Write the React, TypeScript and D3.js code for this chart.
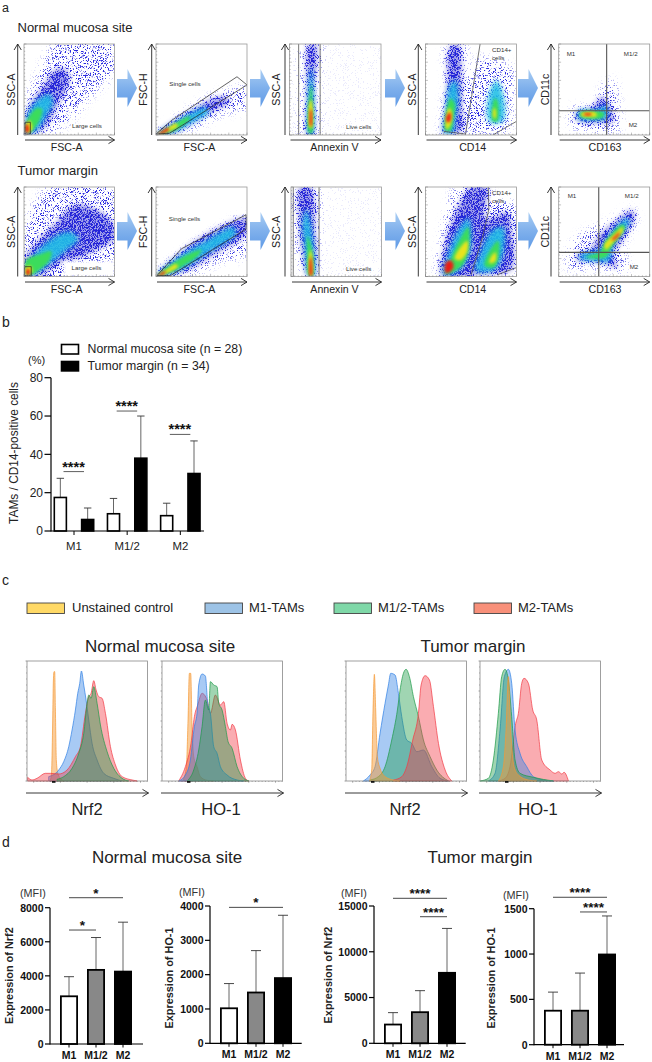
import React from "react";
import * as d3 from "d3";

type Pt = [number, number];

// ---- a: density levels of each flow plot, outer cloud first, percent of the plot axes
const N_FSC_SSC: Pt[][] = [
  [[0,0],[0,30],[8,50],[20,75],[35,100],[100,100],[100,70],[70,40],[55,20],[40,8],[20,0]],
  [[2,2],[3,25],[12,42],[22,55],[30,68],[42,74],[50,66],[48,52],[40,38],[32,22],[25,10],[12,2]],
  [[3,3],[3,18],[10,33],[20,42],[28,45],[32,35],[25,22],[18,10],[10,3]],
  [[3,3],[3,14],[8,24],[15,30],[20,28],[18,18],[12,8],[6,3]],
  [[3,3],[2,12],[6,16],[9,10],[8,4]],
  [[2,3],[2,11],[4,12],[5.5,7],[5,3]],
];
const N_FSC_FSCH: Pt[][] = [
  [[0,0],[15,12],[40,30],[60,42],[80,48],[100,52],[100,30],[75,25],[50,12],[25,3]],
  [[1,1],[17,14],[40,28],[62,40],[78,42],[80,35],[60,25],[40,13],[18,2]],
  [[2,1],[20,13],[40,25],[55,30],[58,25],[40,14],[18,3]],
  [[2,1],[18,10],[32,19],[38,20],[34,14],[18,4]],
  [[2,1],[12,7],[22,13],[24,10],[14,4]],
  [[2,1],[8,5],[13,8],[14,6],[8,2]],
];
const N_ANNEXIN: Pt[][] = [
  [[15,0],[14,40],[18,100],[32,100],[30,50],[28,0]],
  [[20,0],[19,50],[21,100],[29,100],[27,50],[26,0]],
  [[21,2],[21,50],[24,75],[26,50],[25,2]],
  [[21.5,2],[22,45],[24,55],[25,30],[24.5,2]],
  [[22,8],[22.5,38],[24,38],[24.5,8]],
  [[22.7,10],[23,28],[23.8,28],[24,10]],
];
const N_CD14: Pt[][] = [
  [[20,0],[20,30],[24,60],[24,100],[43,100],[42,60],[48,60],[60,85],[72,82],[95,74],[95,40],[90,5],[60,2]],
  [[20,2],[22,30],[24,60],[26,95],[36,100],[40,60],[40,30],[40,5]],
  [[21,3],[23,30],[27,55],[33,60],[36,40],[33,20],[30,3]],
  [[22,5],[23,25],[27,40],[32,35],[30,15],[28,5]],
  [[23,6],[23,22],[26,30],[29,25],[28,12]],
  [[23,15],[23,20],[27,25],[28,18],[26,14]],
];
const N_CD14_RIGHT: Pt[][] = [
  [[70,15],[70,45],[78,60],[85,45],[85,15]],
  [[74,15],[74,35],[76,40],[79,38],[79,15]],
  [[74.5,20],[75,30],[77,28],[77,18]],
];
const N_CD163: Pt[][] = [
  [[15,10],[15,30],[40,30],[50,55],[60,60],[65,30],[65,5],[40,5]],
  [[20,16],[19,25],[35,30],[48,42],[55,35],[60,15],[45,13]],
  [[22,18],[22,26],[40,27],[52,32],[52,18],[40,17]],
  [[24,20],[24,25],[45,26],[50,24],[48,19]],
  [[25,21],[25,24],[40,25],[42,21]],
  [[28,22],[28,23.5],[36,23.5],[36,22]],
];
const T_FSC_SSC: Pt[][] = [
  [[0,0],[0,50],[15,85],[30,100],[100,100],[100,0]],
  [[2,1],[2,22],[15,40],[35,60],[55,80],[80,75],[98,60],[100,42],[80,30],[60,20],[44,17],[30,8],[15,0]],
  [[4,3],[10,22],[30,42],[50,50],[60,42],[45,28],[25,12],[12,3]],
  [[2,2],[2,18],[8,22],[18,25],[30,28],[28,18],[15,6],[8,2]],
  [[2,2],[2,10],[7,12],[9,5]],
  [[3,2],[3,8],[6,8],[6,2]],
];
const T_EMPTY_CORNER: Pt[] = [[44,17],[100,17],[100,0],[44,0]];
const T_FSC_FSCH: Pt[][] = [
  [[0,0],[25,22],[60,45],[100,66],[100,25],[70,18],[45,5],[20,0]],
  [[1,1],[28,28],[60,50],[100,65],[100,48],[65,25],[35,7],[12,1]],
  [[2,1],[28,24],[55,40],[85,55],[88,48],[55,25],[25,7]],
  [[2,1],[22,17],[40,27],[50,30],[45,22],[25,9],[8,2]],
  [[2,1],[12,8],[22,14],[24,11],[12,4]],
  [[2,1],[6,4],[10,6],[10,4],[5,1]],
];
const T_ANNEXIN: Pt[][] = [
  [[18,0],[8,30],[3,60],[5,100],[28,100],[30,60],[27,20],[26,0]],
  [[19,0],[12,30],[9,60],[10,100],[22,100],[27,50],[26,0]],
  [[20,1],[15,35],[13,60],[17,75],[22,55],[25,1]],
  [[20,1],[18,30],[18,45],[22,35],[24,1]],
  [[20.5,1],[20,25],[22,30],[23.5,1]],
  [[21,1],[21,20],[22,22],[23,1]],
];
const T_CD14: Pt[][] = [
  [[15,0],[18,40],[25,75],[35,100],[70,100],[72,86],[100,80],[100,10],[60,0]],
  [[18,1],[20,30],[32,70],[50,100],[68,100],[66,65],[90,72],[95,50],[95,8],[60,2]],
  [[20,2],[25,25],[35,50],[47,65],[50,50],[48,25],[35,6]],
  [[22,3],[28,20],[38,42],[47,55],[47,30],[40,12]],
  [[32,20],[40,35],[46,40],[46,28],[38,18]],
  [[22,4],[22,15],[28,18],[31,12],[27,5]],
];
const T_CD14_RIGHT: Pt[][] = [
  [[55,7],[60,25],[72,50],[85,55],[85,25],[75,7]],
  [[65,12],[70,28],[80,40],[80,20],[75,10]],
  [[70,15],[72,22],[77,27],[77,17]],
];
const T_CD163: Pt[][] = [
  [[10,10],[15,35],[30,50],[55,60],[80,75],[85,65],[70,35],[75,8],[45,10]],
  [[20,18],[20,25],[35,30],[43,45],[60,60],[80,74],[84,68],[70,40],[60,25],[65,10],[50,14],[35,17]],
  [[23,20],[25,25],[45,30],[55,45],[75,65],[78,62],[60,35],[55,17],[45,17]],
  [[30,22],[45,27],[52,40],[70,58],[73,55],[58,33],[52,22],[40,20]],
  [[50,35],[62,48],[70,55],[71,52],[60,38],[52,30]],
  [[58,41],[63,46],[67,50],[66,46],[61,41]],
];

// gates, same percent axes
const GATE_LARGE_N: Pt[] = [[1,1],[1,14],[7,14],[7,1],[1,1]];
const GATE_LARGE_T: Pt[] = [[0.5,0.5],[0.5,11],[8,11],[8,0.5],[0.5,0.5]];
const GATE_SINGLE_N: Pt[] = [[0,1],[17,16],[89,64],[100,55],[55,27],[15,2],[0,1]];
const GATE_SINGLE_T: Pt[] = [[1,1],[28,31],[99,69],[99,53],[16,1],[1,1]];
const GATE_LIVE_N: Pt[][] = [[[10,0],[10,100]],[[33.5,0],[33.5,100]]];
const GATE_LIVE_T: Pt[][] = [[[2.5,0],[2.5,100]],[[31,0],[31,100]]];
const GATE_CD14_N: Pt[][] = [[[60,100],[44,1],[20,4]],[[74,0],[100,15]]];
const GATE_CD14_T: Pt[][] = [[[69,100],[69.6,75],[63,45],[50,2]],[[79,2],[100,10]]];
const QUAD_N: Pt[][] = [[[52.7,0],[52.7,100]],[[0,26.7],[100,26.7]]];
const QUAD_T: Pt[][] = [[[44,0],[44,100]],[[0,27],[100,27]]];

// ---- b
const B_GROUPS = ["M1", "M1/2", "M2"];
const B_SERIES = ["Normal mucosa site (n = 28)", "Tumor margin (n = 34)"];
const B_NORMAL_MEAN = [17.5, 9, 8];
const B_NORMAL_TOP = [27.5, 17, 14.5];
const B_TUMOR_MEAN = [6, 38, 30];
const B_TUMOR_TOP = [12, 60, 47];
const B_BRACKET = [31, 62.6, 50.4];
const B_TICKS = [0, 20, 40, 60, 80];

// ---- c: histograms, channel (0-360) against count (0-360)
const LEGEND_C = ["Unstained control", "M1-TAMs", "M1/2-TAMs", "M2-TAMs"];
const NRF2_N_UNSTAINED: Pt[] = [[68,0],[72,10],[74,35],[77,180],[79,300],[81,328],[83,328],[85,220],[88,60],[92,25],[100,8],[110,0]];
const NRF2_N_M1: Pt[] = [[65,13],[95,33],[110,58],[125,103],[135,153],[145,213],[152,263],[158,293],[163,330],[170,288],[177,243],[185,183],[195,113],[210,63],[230,23],[260,8],[285,0]];
const NRF2_N_M12: Pt[] = [[90,5],[110,13],[135,38],[155,83],[170,143],[180,233],[185,258],[192,248],[200,283],[210,233],[220,168],[240,88],[260,38],[285,8],[305,0]];
const NRF2_N_M2: Pt[] = [[2,11],[15,3],[30,8],[55,23],[70,23],[95,21],[120,33],[145,73],[160,103],[175,203],[185,253],[192,263],[200,301],[207,273],[215,253],[225,248],[235,203],[250,103],[265,48],[285,13],[320,2],[330,0]];
const HO1_N_UNSTAINED: Pt[] = [[65,8],[73,43],[78,183],[82,323],[86,323],[90,163],[95,73],[105,43],[115,13],[135,2],[155,0]];
const HO1_N_M1: Pt[] = [[50,0],[70,18],[85,63],[97,163],[105,203],[110,288],[120,321],[130,315],[137,233],[145,203],[155,103],[165,83],[175,43],[195,18],[225,3],[245,0]];
const HO1_N_M12: Pt[] = [[75,0],[95,33],[110,93],[120,163],[130,243],[140,213],[145,298],[155,288],[165,283],[170,233],[180,213],[190,163],[198,118],[210,98],[225,43],[245,8],[260,0]];
const HO1_N_M2: Pt[] = [[50,0],[70,43],[87,113],[97,193],[107,228],[120,263],[135,243],[145,203],[160,258],[175,228],[185,238],[195,173],[205,153],[210,170],[220,153],[235,63],[250,8],[260,0]];
const NRF2_T_UNSTAINED: Pt[] = [[70,0],[77,33],[81,213],[85,320],[89,213],[94,73],[102,38],[117,13],[142,3],[162,0]];
const NRF2_T_M1: Pt[] = [[52,0],[72,18],[87,43],[102,143],[117,233],[127,288],[134,323],[147,318],[157,263],[167,193],[182,123],[197,113],[212,88],[232,93],[257,43],[282,8],[307,0]];
const NRF2_T_M12: Pt[] = [[72,3],[97,13],[117,43],[137,123],[154,213],[162,273],[172,323],[180,335],[190,313],[202,253],[217,193],[232,123],[252,73],[272,33],[307,0]];
const NRF2_T_M2: Pt[] = [[142,3],[167,13],[182,43],[200,123],[217,203],[225,288],[237,316],[250,303],[262,223],[277,113],[297,33],[317,0]];
const HO1_T_M12: Pt[] = [[0,0],[25,8],[40,63],[55,203],[65,313],[75,335],[85,303],[95,193],[105,63],[120,23],[160,11],[220,0]];
const HO1_T_M1: Pt[] = [[25,0],[45,23],[60,153],[73,313],[85,335],[95,293],[105,153],[120,83],[140,43],[160,13],[190,3],[220,0]];
const HO1_T_UNSTAINED: Pt[] = [[55,0],[70,43],[78,153],[85,313],[92,153],[102,43],[115,18],[145,3],[170,0]];
const HO1_T_M2: Pt[] = [[55,0],[75,8],[90,43],[107,173],[115,203],[125,293],[132,308],[145,293],[158,213],[170,183],[185,63],[210,33],[225,23],[235,28],[245,21],[252,26],[265,0]];

// ---- d
const D_GROUPS = ["M1", "M1/2", "M2"];
const NRF2_N_MEAN = [2800, 4350, 4250];
const NRF2_N_TOP = [3950, 6250, 7150];
const HO1_N_MEAN = [1020, 1480, 1900];
const HO1_N_TOP = [1740, 2700, 3730];
const NRF2_T_MEAN = [2050, 3400, 7700];
const NRF2_T_TOP = [3350, 5750, 12550];
const HO1_T_MEAN = [375, 375, 995];
const HO1_T_TOP = [580, 790, 1420];
const TICKS_8000 = [0, 2000, 4000, 6000, 8000];
const TICKS_4000 = [0, 1000, 2000, 3000, 4000];
const TICKS_15000 = [0, 5000, 10000, 15000];
const TICKS_1500 = [0, 500, 1000, 1500];

const SANS = "Liberation Sans, Arial, sans-serif";
const LEVEL_COLORS = ["#2a2ae0", "#1f2fe6", "#20bfe6", "#3bdc5c", "#e8e41e", "#ea1c14"];
const HIST_FILL: Record<string, string> = { un: "#f59a35", m1: "#2f80e4", m12: "#1d9a48", m2: "#f23a44" };

const Arrow = ({ x1, y1, x2, y2 }: { x1: number; y1: number; x2: number; y2: number }) => {
  const horiz = y1 === y2;
  const head = horiz
    ? `M${x2 - 6},${y2 - 3.6}L${x2},${y2}L${x2 - 6},${y2 + 3.6}`
    : `M${x2 - 3.6},${y2 + 6}L${x2},${y2}L${x2 + 3.6},${y2 + 6}`;
  return (
    <g fill="none" stroke="#222" strokeWidth={0.9}>
      <line x1={x1} y1={y1} x2={x2} y2={y2} />
      <path d={head} />
    </g>
  );
};

const BlockArrow = ({ x, y }: { x: number; y: number }) => (
  <path
    d={`M${x},${y + 10}H${x + 10.5}V${y}L${x + 20},${y + 19}L${x + 10.5},${y + 38}V${y + 28.5}H${x}Z`}
    fill="url(#blockBlue)"
  />
);

function FlowPlot(props: {
  id: string; x: number; y: number; w: number; h: number;
  levels: Pt[][]; extra?: Pt[][]; sparse?: number; empty?: Pt[]; gates?: Pt[][]; closedGate?: Pt[];
  quad?: Pt[][]; xLabel: string; yLabel: string; xLabelX: number; arrowY: number; yArrowX: number; yLabelX: number;
  notes: { t: string; x: number; y: number; anchor?: string }[];
}) {
  const { x, y, w, h, levels } = props;
  const sx = d3.scaleLinear().domain([0, 100]).range([x, x + w]);
  const sy = d3.scaleLinear().domain([0, 100]).range([y + h, y]);
  const blob = d3.line<Pt>().x((d) => sx(d[0])).y((d) => sy(d[1])).curve(d3.curveCatmullRomClosed.alpha(0.5));
  const straight = d3.line<Pt>().x((d) => sx(d[0])).y((d) => sy(d[1]));
  const ticks = d3.range(0, 101, 4);
  return (
    <g fontFamily={SANS}>
      <clipPath id={props.id}><rect x={x} y={y} width={w} height={h} /></clipPath>
      <g clipPath={`url(#${props.id})`}>
        {/* grain turns fill opacity into dot density, so the sparse cells are opacity, not marks */}
        {props.sparse ? <rect x={x - 5} y={y - 5} width={w + 10} height={h + 10} fill="#000" fillOpacity={props.sparse} filter="url(#grain)" /> : null}
        <path d={blob(levels[0])!} fill="#000" fillOpacity={0.36} filter="url(#grainWide)" />
        <path d={blob(levels[1])!} fill="#000" fillOpacity={0.7} filter="url(#grain)" />
        <path d={blob(levels[1])!} fill="#1c1ccc" opacity={0.4} filter="url(#softWide)" />
        {props.empty ? <path d={straight(props.empty)! + "Z"} fill="#fff" filter="url(#softer)" /> : null}
        {levels.slice(2).map((lv, i) => (
          <path key={i} d={blob(lv)!} fill={LEVEL_COLORS[i + 2]} opacity={i === 0 ? 0.9 : 1} filter={i === 0 ? "url(#softWide)" : "url(#soft)"} />
        ))}
        {(props.extra || []).map((lv, i) => (
          <path key={i} d={blob(lv)!} fill={LEVEL_COLORS[i + 2]} opacity={i === 0 ? 0.9 : 1} filter={i === 0 ? "url(#softWide)" : "url(#soft)"} />
        ))}
        {(props.gates || []).map((g, i) => (
          <path key={i} d={straight(g)!} fill="none" stroke="#555" strokeWidth={0.8} />
        ))}
        {props.closedGate ? <path d={straight(props.closedGate)!} fill="none" stroke="#222" strokeWidth={0.7} /> : null}
        {(props.quad || []).map((g, i) => (
          <path key={i} d={straight(g)!} fill="none" stroke="#555" strokeWidth={1.1} />
        ))}
      </g>
      <rect x={x} y={y} width={w} height={h} fill="none" stroke="#999" strokeWidth={0.8} />
      {ticks.map((t) => (
        <g key={t} stroke="#666" strokeWidth={0.4}>
          <line x1={x} x2={x + (t % 20 === 0 ? 2.4 : 1.2)} y1={sy(t)} y2={sy(t)} />
          <line y1={y + h} y2={y + h - (t % 20 === 0 ? 2.4 : 1.2)} x1={sx(t)} x2={sx(t)} />
        </g>
      ))}
      <Arrow x1={props.yArrowX} y1={y + h} x2={props.yArrowX} y2={y} />
      <Arrow x1={x + 1} y1={props.arrowY} x2={x + w} y2={props.arrowY} />
      <text x={props.xLabelX} y={props.arrowY + 11} textAnchor="middle" fontSize={10.6} fill="#222">{props.xLabel}</text>
      <text transform={`translate(${props.yLabelX},${y + h / 2}) rotate(-90)`} textAnchor="middle" fontSize={10.6} fill="#222">{props.yLabel}</text>
      {props.notes.map((n, i) => (
        <text key={i} x={n.x} y={n.y} textAnchor={(n.anchor as any) || "middle"} fontSize={6.2} fill="#333">{n.t}</text>
      ))}
    </g>
  );
}

function HistPlot(props: { x: number; label: string; labelX: number; curves: [string, Pt[]][] }) {
  const { x } = props;
  const top = 661, w = 120.5, h = 120;
  const sx = d3.scaleLinear().domain([0, 361]).range([x, x + w]);
  const sy = d3.scaleLinear().domain([0, 360]).range([top + h, top]);
  const area = d3.area<Pt>().x((d) => sx(d[0])).y0(top + h).y1((d) => sy(d[1])).curve(d3.curveMonotoneX);
  const yTicks = d3.range(0, 361, 18);
  const xTicks = d3.range(20, 361, 10);
  return (
    <g fontFamily={SANS}>
      {props.curves.map(([k, pts]) => (
        <path key={k} d={area(pts)!} fill={HIST_FILL[k]} fillOpacity={k === "un" ? 0.5 : 0.42} stroke={HIST_FILL[k]} strokeWidth={0.7} />
      ))}
      <rect x={x} y={top} width={w} height={h} fill="none" stroke="#888" strokeWidth={0.8} />
      {yTicks.map((t, i) => (
        <line key={t} x1={x - (i % 5 === 0 ? 1.6 : 0.8)} x2={x} y1={sy(t)} y2={sy(t)} stroke="#444" strokeWidth={0.4} />
      ))}
      {xTicks.map((t, i) => (
        <line key={t} y1={top + h} y2={top + h + (i % 8 === 0 ? 1.8 : 0.9)} x1={sx(t)} x2={sx(t)} stroke="#444" strokeWidth={0.4} />
      ))}
      <rect x={x + 25} y={top + h} width={3.5} height={1.8} fill="#111" />
      <Arrow x1={x - 1} y1={793} x2={x + w + 1} y2={793} />
      <text x={props.labelX} y={815} textAnchor="middle" fontSize={16.5} fill="#222">{props.label}</text>
    </g>
  );
}

function BarPlot(props: {
  x: number; zero: number; top: number; right: number; max: number; ticks: number[]; mean: number[]; err: number[];
  label: string; labelX: number; labelY: number; mfiX: number; mfiY: number;
  brackets: { from: string; to: string; v: number; stars: string }[];
}) {
  const { x, zero, top, mean, err } = props;
  const sy = d3.scaleLinear().domain([0, props.max]).range([zero, top]);
  const sx = d3.scaleBand<string>().domain(D_GROUPS).range([x + 5.5, x + 86.5]).paddingInner(1 / 3).paddingOuter(1 / 6);
  const fills = ["#fff", "#888", "#000"];
  const bw = sx.bandwidth();
  return (
    <g fontFamily={SANS} fill="#111">
      {D_GROUPS.map((g, i) => {
        const cx = sx(g)! + bw / 2;
        return (
          <g key={g}>
            <line x1={cx} x2={cx} y1={sy(mean[i])} y2={sy(err[i])} stroke="#555" strokeWidth={0.9} />
            <line x1={cx - 5} x2={cx + 5} y1={sy(err[i])} y2={sy(err[i])} stroke="#333" strokeWidth={0.9} />
            <rect x={sx(g)! + 0.9} y={sy(mean[i])} width={bw - 1.8} height={zero - sy(mean[i])} fill={fills[i]} stroke="#000" strokeWidth={1.8} />
            <line x1={cx} x2={cx} y1={zero} y2={zero + 3.5} stroke="#000" strokeWidth={1} />
            <text x={cx} y={zero + 15} textAnchor="middle" fontSize={10.5} fontWeight={700}>{g}</text>
          </g>
        );
      })}
      <line x1={x} x2={x} y1={zero + 0.5} y2={top} stroke="#000" strokeWidth={1.2} />
      <line x1={x} x2={props.right} y1={zero} y2={zero} stroke="#000" strokeWidth={1.2} />
      {props.ticks.map((t) => (
        <g key={t}>
          <line x1={x - 5} x2={x} y1={sy(t)} y2={sy(t)} stroke="#000" strokeWidth={1.2} />
          <text x={x - 6.5} y={sy(t) + 3.8} textAnchor="end" fontSize={10.5} fontWeight={700}>{t}</text>
        </g>
      ))}
      <text x={props.mfiX} y={props.mfiY} fontSize={10.8} fill="#333">(MFI)</text>
      <text transform={`translate(${props.labelX},${props.labelY}) rotate(-90)`} textAnchor="middle" fontSize={10.9} fontWeight={700} fill="#222">{props.label}</text>
      {props.brackets.map((b, i) => {
        const a = sx(b.from)! + bw / 2, c = sx(b.to)! + bw / 2;
        return (
          <g key={i}>
            <line x1={a} x2={c} y1={sy(b.v)} y2={sy(b.v)} stroke="#333" strokeWidth={0.9} />
            <text x={(a + c) / 2} y={sy(b.v)} textAnchor="middle" fontSize={13.5} fontWeight={700}>{b.stars}</text>
          </g>
        );
      })}
    </g>
  );
}

function PanelB() {
  const sy = d3.scaleLinear().domain([0, 80]).range([531, 377.7]);
  const sg = d3.scaleBand<string>().domain(B_GROUPS).range([47.5, 207]).paddingInner(0).paddingOuter(0);
  const inner = d3.scaleBand<string>().domain(["n", "t"]).range([6, 47]).paddingInner(0.5).paddingOuter(0);
  const bw = inner.bandwidth();
  const sets = [
    { key: "n", mean: B_NORMAL_MEAN, top: B_NORMAL_TOP, fill: "#fff" },
    { key: "t", mean: B_TUMOR_MEAN, top: B_TUMOR_TOP, fill: "#000" },
  ];
  return (
    <g fontFamily={SANS} fill="#222">
      <rect x={61.5} y={344.5} width={17} height={9.5} fill="#fff" stroke="#000" strokeWidth={1.6} />
      <rect x={60.7} y={360.7} width={18.6} height={11} fill="#000" />
      <text x={87.5} y={353} fontSize={12.3}>{B_SERIES[0]}</text>
      <text x={87.5} y={370} fontSize={12.3}>{B_SERIES[1]}</text>
      <text x={28} y={364} fontSize={11}>(%)</text>
      {B_GROUPS.map((g, gi) => (
        <g key={g}>
          {sets.map((s) => {
            const bx = sg(g)! + inner(s.key)!;
            const cx = bx + bw / 2;
            return (
              <g key={s.key}>
                <line x1={cx} x2={cx} y1={sy(s.mean[gi])} y2={sy(s.top[gi])} stroke="#555" strokeWidth={0.9} />
                <line x1={cx - 3.7} x2={cx + 3.7} y1={sy(s.top[gi])} y2={sy(s.top[gi])} stroke="#333" strokeWidth={0.9} />
                <rect x={bx + 0.8} y={sy(s.mean[gi])} width={bw - 1.6} height={531 - sy(s.mean[gi])} fill={s.fill} stroke="#000" strokeWidth={1.6} />
              </g>
            );
          })}
          <line x1={sg(g)! + 26.5} x2={sg(g)! + 26.5} y1={531} y2={535} stroke="#000" strokeWidth={1} />
          <text x={sg(g)! + 26.5} y={550} textAnchor="middle" fontSize={11.4}>{g}</text>
          <line x1={sg(g)! + 16} x2={sg(g)! + 36.5} y1={sy(B_BRACKET[gi])} y2={sy(B_BRACKET[gi])} stroke="#333" strokeWidth={0.8} />
          <text x={sg(g)! + 26} y={sy(B_BRACKET[gi])} textAnchor="middle" fontSize={14.5} fontWeight={700} fill="#111">****</text>
        </g>
      ))}
      <line x1={51} x2={51} y1={531.5} y2={377.7} stroke="#000" strokeWidth={1.2} />
      <line x1={51} x2={204} y1={531} y2={531} stroke="#000" strokeWidth={1.2} />
      {B_TICKS.map((t) => (
        <g key={t}>
          <line x1={44.5} x2={51} y1={sy(t)} y2={sy(t)} stroke="#000" strokeWidth={1.2} />
          <text x={43} y={sy(t) + 4.2} textAnchor="end" fontSize={12}>{t}</text>
        </g>
      ))}
      <text transform="translate(18,453) rotate(-90)" textAnchor="middle" fontSize={11.9}>TAMs / CD14-positive cells</text>
    </g>
  );
}

const FLOW_COLS = [
  { x: 24, w: 90.5, ya: 17.7, yl: 15 },
  { x: 156, w: 91, ya: 151.7, yl: 147 },
  { x: 289.5, w: 91.5, ya: 285, yl: 279.5 },
  { x: 425.5, w: 91, ya: 418.3, yl: 415.7 },
  { x: 558.7, w: 91, ya: 551, yl: 549 },
];

export default function App() {
  const legendXs = [27, 205, 334, 474];
  const legendFill = ["#ffd966", "#9dc3e6", "#7fd8a8", "#f8907a"];
  const legendText = [72, 249, 378, 518];
  const row = (yTop: number, h: number, arrowY: number, d: Pt[][][], extra: Pt[][], gates: any, notes: any) => (
    <g>
      {FLOW_COLS.map((c, i) => (
        <FlowPlot
          key={i}
          id={`clip${yTop}${i}`}
          x={c.x + (yTop > 100 && i === 2 ? 1.5 : 0)}
          y={yTop}
          w={c.w - (yTop > 100 && i === 2 ? 1 : 0)}
          h={h}
          levels={d[i]}
          extra={i === 3 ? extra : undefined}
          sparse={i === 2 ? 0.03 : undefined}
          empty={gates.empty && i === 0 ? gates.empty : undefined}
          closedGate={i === 0 ? gates.large : i === 1 ? gates.single : undefined}
          gates={i === 2 ? gates.live : i === 3 ? gates.cd14 : undefined}
          quad={i === 4 ? gates.quad : undefined}
          xLabel={["FSC-A", "FSC-A", "Annexin V", "CD14", "CD163"][i]}
          yLabel={["SSC-A", "FSC-H", "SSC-A", "SSC-A", "CD11c"][i]}
          xLabelX={[66.7, 199.5, 334.5, 472.7, 605][i]}
          arrowY={arrowY}
          yArrowX={c.ya}
          yLabelX={c.yl}
          notes={notes[i]}
        />
      ))}
    </g>
  );
  const grain = (id: string, blur: number) => (
    <filter id={id} x="-30%" y="-30%" width="160%" height="160%" colorInterpolationFilters="sRGB">
      <feGaussianBlur in="SourceAlpha" stdDeviation={blur} result="blurA" />
      <feTurbulence type="fractalNoise" baseFrequency="1.4" numOctaves="1" seed="4" result="noise" />
      <feColorMatrix in="noise" type="matrix" values="0 0 0 0 0  0 0 0 0 0  0 0 0 0 0  0 0 0 3.4 -1.2" result="na" />
      <feComposite in="blurA" in2="na" operator="arithmetic" k1="0" k2="1" k3="1" k4="-1" result="sum" />
      <feComponentTransfer in="sum" result="dots">
        <feFuncA type="linear" slope="3" />
      </feComponentTransfer>
      <feFlood floodColor="#2a2ae0" />
      <feComposite in2="dots" operator="in" />
    </filter>
  );
  return (
    <svg width={652} height={1062} style={{ position: "absolute", left: 0, top: 0, background: "#fff" }}>
      <defs>
        <linearGradient id="blockBlue" x1="0" x2="0" y1="0" y2="1">
          <stop offset="0" stopColor="#a9cdf3" />
          <stop offset="0.5" stopColor="#7fb0ec" />
          <stop offset="1" stopColor="#5f9ae6" />
        </linearGradient>
        <filter id="soft" x="-30%" y="-30%" width="160%" height="160%">
          <feGaussianBlur stdDeviation="1.5" />
        </filter>
        <filter id="softWide" x="-30%" y="-30%" width="160%" height="160%">
          <feGaussianBlur stdDeviation="2.4" />
        </filter>
        <filter id="softer" x="-10%" y="-30%" width="120%" height="160%">
          <feGaussianBlur stdDeviation="0.8" />
        </filter>
        {grain("grain", 2.6)}
        {grain("grainWide", 5)}
      </defs>

      <g fontFamily={SANS} fill="#222">
        <text x={2} y={11.5} fontSize={12.5}>a</text>
        <text x={17.5} y={32} fontSize={13}>Normal mucosa site</text>
        <text x={17.5} y={175} fontSize={13}>Tumor margin</text>
        <text x={2} y={327} fontSize={14}>b</text>
        <text x={2} y={585} fontSize={14}>c</text>
        <text x={2} y={847} fontSize={14}>d</text>
      </g>

      {row(44, 91, 140, [N_FSC_SSC, N_FSC_FSCH, N_ANNEXIN, N_CD14, N_CD163], N_CD14_RIGHT,
        { large: GATE_LARGE_N, single: GATE_SINGLE_N, live: GATE_LIVE_N, cd14: GATE_CD14_N, quad: QUAD_N },
        [
          [{ t: "Large  cells", x: 87, y: 128 }],
          [{ t: "Single cells", x: 185, y: 86 }],
          [{ t: "Live cells", x: 358.7, y: 128.5 }],
          [{ t: "CD14+", x: 492, y: 52, anchor: "start" }, { t: "cells", x: 492, y: 60, anchor: "start" }],
          [{ t: "M1", x: 571, y: 56 }, { t: "M1/2", x: 630.7, y: 56 }, { t: "M2", x: 633, y: 126.5 }],
        ])}
      {row(187, 89.5, 282, [T_FSC_SSC, T_FSC_FSCH, T_ANNEXIN, T_CD14, T_CD163], T_CD14_RIGHT,
        { large: GATE_LARGE_T, single: GATE_SINGLE_T, live: GATE_LIVE_T, cd14: GATE_CD14_T, quad: QUAD_T, empty: T_EMPTY_CORNER },
        [
          [{ t: "Large  cells", x: 86.5, y: 270 }],
          [{ t: "Single cells", x: 184.5, y: 221 }],
          [{ t: "Live cells", x: 358.7, y: 270.5 }],
          [{ t: "CD14+", x: 492, y: 195, anchor: "start" }, { t: "cells", x: 492, y: 202.5, anchor: "start" }],
          [{ t: "M1", x: 572, y: 198 }, { t: "M1/2", x: 631.7, y: 198 }, { t: "M2", x: 634, y: 269 }],
        ])}
      {[117, 250, 385, 518].map((bx) => (
        <g key={bx}>
          <BlockArrow x={bx} y={69} />
          <BlockArrow x={bx} y={212} />
        </g>
      ))}

      <PanelB />

      <g fontFamily={SANS} fill="#222">
        {LEGEND_C.map((t, i) => (
          <g key={t}>
            <rect x={legendXs[i]} y={603} width={37.5} height={10.5} fill={legendFill[i]} stroke="#444" strokeWidth={0.9} />
            <text x={legendText[i]} y={611.7} fontSize={13}>{t}</text>
          </g>
        ))}
        <text x={160} y={652.3} textAnchor="middle" fontSize={17}>Normal mucosa site</text>
        <text x={473} y={652.3} textAnchor="middle" fontSize={17}>Tumor margin</text>
        <text x={167} y={862.5} textAnchor="middle" fontSize={17}>Normal mucosa site</text>
        <text x={480} y={862.5} textAnchor="middle" fontSize={17}>Tumor margin</text>
      </g>
      <HistPlot x={27} label="Nrf2" labelX={87} curves={[["un", NRF2_N_UNSTAINED], ["m1", NRF2_N_M1], ["m2", NRF2_N_M2], ["m12", NRF2_N_M12]]} />
      <HistPlot x={162} label="HO-1" labelX={221} curves={[["un", HO1_N_UNSTAINED], ["m2", HO1_N_M2], ["m1", HO1_N_M1], ["m12", HO1_N_M12]]} />
      <HistPlot x={346} label="Nrf2" labelX={405} curves={[["m1", NRF2_T_M1], ["m12", NRF2_T_M12], ["m2", NRF2_T_M2], ["un", NRF2_T_UNSTAINED]]} />
      <HistPlot x={480} label="HO-1" labelX={538} curves={[["m2", HO1_T_M2], ["m1", HO1_T_M1], ["m12", HO1_T_M12], ["un", HO1_T_UNSTAINED]]} />

      <BarPlot x={50} zero={1044} top={907.7} right={143} max={8000} ticks={TICKS_8000} mean={NRF2_N_MEAN} err={NRF2_N_TOP}
        label="Expression of Nrf2" labelX={13} labelY={975.7} mfiX={20} mfiY={897}
        brackets={[{ from: "M1", to: "M2", v: 8586, stars: "*" }, { from: "M1", to: "M1/2", v: 6690, stars: "*" }]} />
      <BarPlot x={210} zero={1043.3} top={906} right={301.7} max={4000} ticks={TICKS_4000} mean={HO1_N_MEAN} err={HO1_N_TOP}
        label="Expression of HO-1" labelX={172.7} labelY={978} mfiX={179} mfiY={896}
        brackets={[{ from: "M1", to: "M2", v: 3960, stars: "*" }]} />
      <BarPlot x={374} zero={1043.3} top={906} right={465.7} max={15000} ticks={TICKS_15000} mean={NRF2_T_MEAN} err={NRF2_T_TOP}
        label="Expression of Nrf2" labelX={331.7} labelY={975} mfiX={341} mfiY={897}
        brackets={[{ from: "M1", to: "M2", v: 15840, stars: "****" }, { from: "M1/2", to: "M2", v: 13830, stars: "****" }]} />
      <BarPlot x={534} zero={1044.7} top={908.7} right={624} max={1500} ticks={TICKS_1500} mean={HO1_T_MEAN} err={HO1_T_TOP}
        label="Expression of HO-1" labelX={495} labelY={978} mfiX={503} mfiY={899}
        brackets={[{ from: "M1", to: "M2", v: 1626, stars: "****" }, { from: "M1/2", to: "M2", v: 1464, stars: "****" }]} />
    </svg>
  );
}
